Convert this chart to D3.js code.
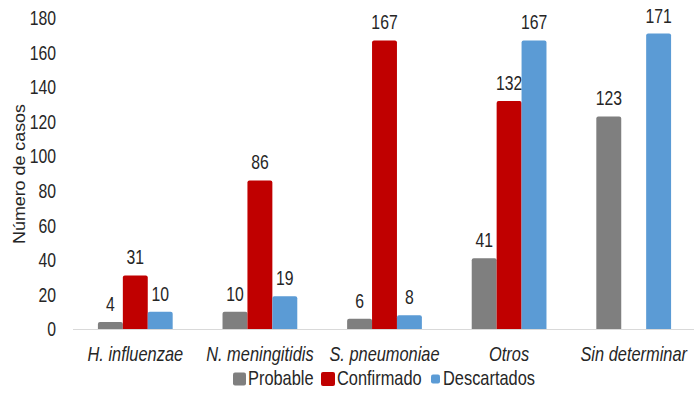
<!DOCTYPE html>
<html>
<head>
<meta charset="utf-8">
<script src="https://cdn.jsdelivr.net/npm/d3@7"></script>
<style>
  html, body { margin: 0; padding: 0; background: #fff; }
  svg { display: block; }
  text { font-family: "Liberation Sans", Arial, sans-serif; fill: #262626; }
</style>
</head>
<body>
<svg id="chart" width="694" height="393"></svg>
<script>
// Casos por agente etiológico
const categories = ["H. influenzae", "N. meningitidis", "S. pneumoniae", "Otros", "Sin determinar"];
const seriesNames = ["Probable", "Confirmado", "Descartados"];
const probable = [4, 10, 6, 41, 123];
const confirmado = [31, 86, 167, 132, null];
const descartados = [10, 19, 8, 167, 171];
const seriesColors = ["#7f7f7f", "#c00000", "#5b9bd5"];
const yTicks = [0, 20, 40, 60, 80, 100, 120, 140, 160, 180];

const seriesValues = [probable, confirmado, descartados];

// Horizontal compression that gives the sans font a narrow look
const NUM_SCALE = 0.75;
const TXT_SCALE = 0.82;

const svg = d3.select("#chart");
const left = 73;
const baseY = 329;

const x = d3.scaleBand()
  .domain(categories)
  .range([left, left + 5 * 124.6])
  .paddingInner(0.4)
  .paddingOuter(0.2);

const x1 = d3.scaleBand()
  .domain(seriesNames)
  .range([0, x.bandwidth()]);

const y = d3.scaleLinear()
  .domain([0, 180])
  .range([baseY, 18]);

// Etiquetas del eje Y (sin línea de eje)
const yAxis = d3.axisLeft(y).tickValues(yTicks).tickSize(0).tickPadding(0);
const gy = svg.append("g")
  .attr("transform", "translate(56,0)")
  .call(yAxis);
gy.select(".domain").remove();
gy.selectAll("text")
  .attr("font-size", 21)
  .attr("font-family", "Liberation Sans, Arial, sans-serif")
  .attr("fill", "#262626")
  .attr("transform", `scale(${NUM_SCALE},1)`);

// Título del eje Y
svg.append("text")
  .attr("transform", `translate(25,174) rotate(-90) scale(1.05,1)`)
  .attr("text-anchor", "middle")
  .attr("font-size", 17)
  .text("Número de casos");

// Barras
const groups = svg.append("g").selectAll("g")
  .data(categories)
  .join("g")
  .attr("transform", d => `translate(${x(d)},0)`);

seriesNames.forEach((name, si) => {
  const vals = seriesValues[si];
  const present = groups.filter((d, i) => vals[i] != null);

  present.append("path")
    .attr("fill", seriesColors[si])
    .attr("d", d => {
      const v = vals[categories.indexOf(d)];
      const x0 = x1(name), w = x1.bandwidth();
      const top = y(v), r = Math.min(2, (baseY - top) / 2);
      return `M${x0},${baseY}V${top + r}Q${x0},${top} ${x0 + r},${top}H${x0 + w - r}Q${x0 + w},${top} ${x0 + w},${top + r}V${baseY}Z`;
    });

  present.append("text")
    .attr("transform", d => {
      const v = vals[categories.indexOf(d)];
      return `translate(${x1(name) + x1.bandwidth() / 2},${y(v) - 11}) scale(${NUM_SCALE},1)`;
    })
    .attr("text-anchor", "middle")
    .attr("font-size", 21)
    .text(d => vals[categories.indexOf(d)]);
});

// Línea base
svg.append("line")
  .attr("x1", left).attr("x2", 694)
  .attr("y1", baseY + 0.5).attr("y2", baseY + 0.5)
  .attr("stroke", "#d9d9d9").attr("stroke-width", 1);

// Etiquetas del eje X
const xAxis = d3.axisBottom(x).tickSize(0).tickPadding(0);
const gx = svg.append("g")
  .attr("transform", `translate(0,${baseY})`)
  .call(xAxis);
gx.select(".domain").remove();
gx.selectAll("text")
  .attr("dy", null)
  .attr("y", 32)
  .attr("font-size", 20)
  .attr("font-style", "italic")
  .attr("font-family", "Liberation Sans, Arial, sans-serif")
  .attr("fill", "#262626")
  .attr("transform", `scale(${TXT_SCALE},1)`);

// Leyenda
const legendItems = [
  { name: seriesNames[0], color: seriesColors[0], sq: 13, sx: 233, tx: 248 },
  { name: seriesNames[1], color: seriesColors[1], sq: 14, sx: 321, tx: 337 },
  { name: seriesNames[2], color: seriesColors[2], sq: 9, sx: 431, tx: 443 }
];
const legend = svg.append("g");
legendItems.forEach(it => {
  legend.append("rect")
    .attr("x", it.sx).attr("y", 379 - it.sq / 2)
    .attr("width", it.sq).attr("height", it.sq)
    .attr("rx", 2)
    .attr("fill", it.color);
  legend.append("text")
    .attr("transform", `translate(${it.tx},385) scale(${TXT_SCALE},1)`)
    .attr("font-size", 20)
    .text(it.name);
});
</script>
</body>
</html>
